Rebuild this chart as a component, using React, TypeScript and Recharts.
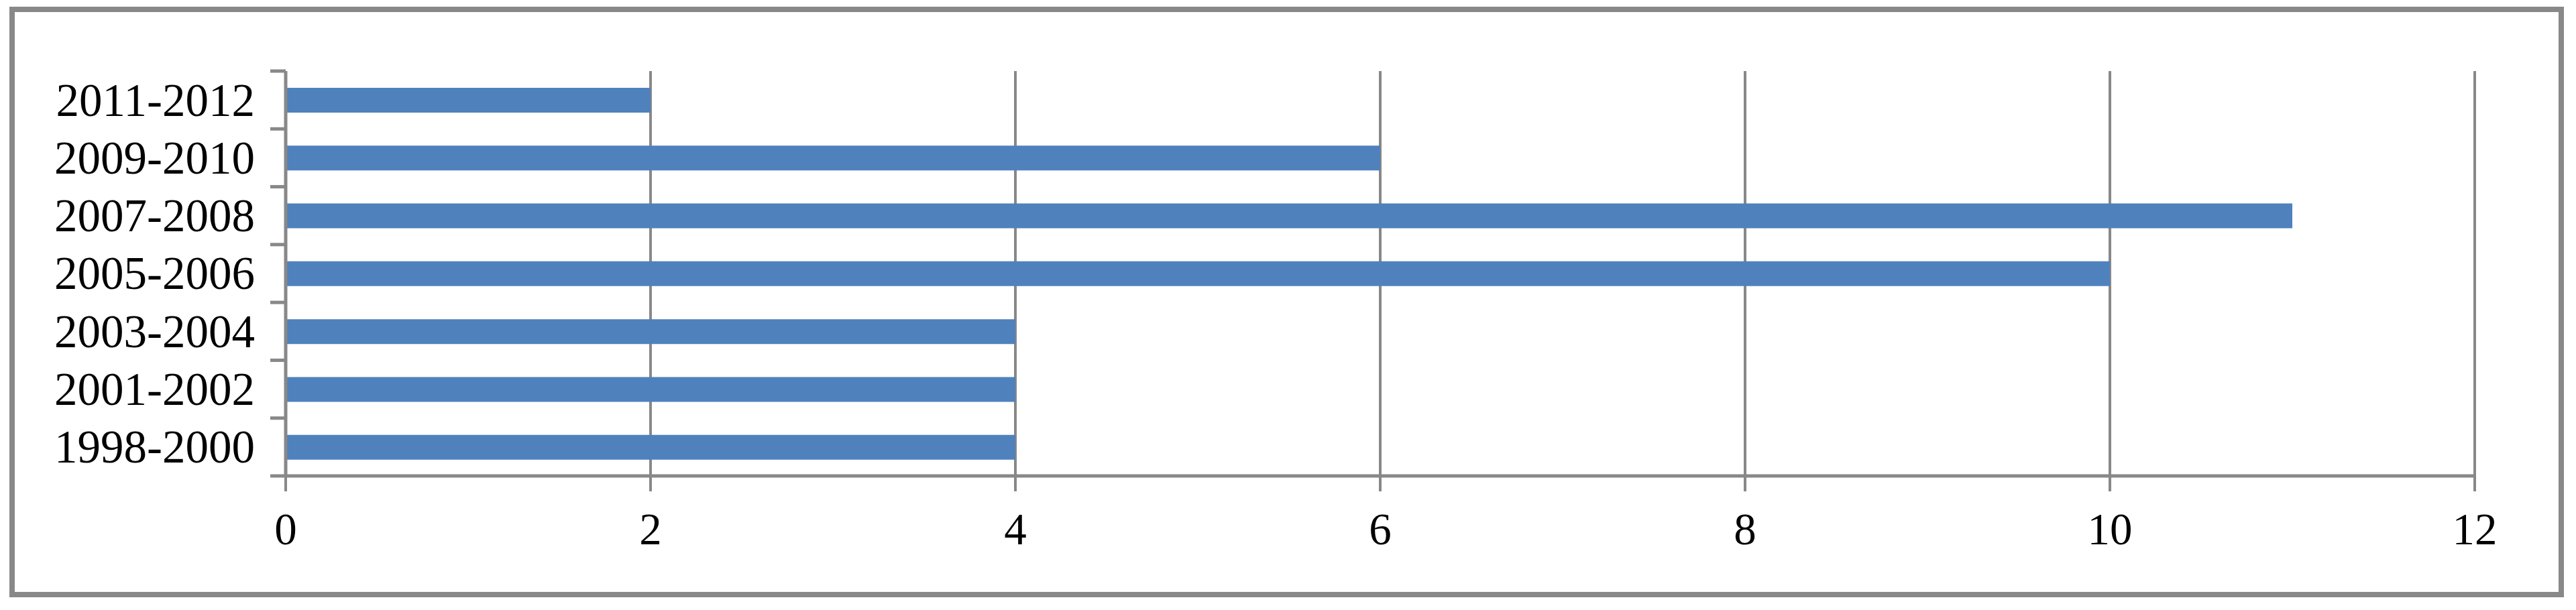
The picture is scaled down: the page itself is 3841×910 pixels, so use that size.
import { BarChart, Bar, XAxis, YAxis, CartesianGrid } from "recharts"

const periods = ['2011-2012', '2009-2010', '2007-2008', '2005-2006', '2003-2004', '2001-2002', '1998-2000']
const counts = [2, 6, 11, 10, 4, 4, 4]
const xTicks = [0, 2, 4, 6, 8, 10, 12]

const data = periods.map((p, i) => ({ period: p, count: counts[i] }))

const W = 3841
const H = 910
const PLOT_LEFT = 426
const PLOT_TOP = 106
const PLOT_BOTTOM = 710
const BAND = (PLOT_BOTTOM - PLOT_TOP) / periods.length
const GREY = "#888888"
const FONT = "'Liberation Serif', 'Times New Roman', serif"

function PeriodTick(props: any) {
  const { y, payload, index } = props
  return (
    <g>
      <line x1={PLOT_LEFT - 23} x2={PLOT_LEFT} y1={y - BAND / 2} y2={y - BAND / 2} stroke={GREY} strokeWidth={5} />
      {index === periods.length - 1 && (
        <line x1={PLOT_LEFT - 23} x2={PLOT_LEFT} y1={y + BAND / 2} y2={y + BAND / 2} stroke={GREY} strokeWidth={5} />
      )}
      <text x={PLOT_LEFT - 46} y={y} dy="0.34em" textAnchor="end" fontSize={69} fontFamily={FONT} fill="#000">
        {payload.value}
      </text>
    </g>
  )
}

function ValueTick(props: any) {
  const { x, payload } = props
  return (
    <text x={x} y={789} dy="0.34em" textAnchor="middle" fontSize={67} fontFamily={FONT} fill="#000">
      {payload.value}
    </text>
  )
}

export default function App() {
  return (
    <div style={{ position: "absolute", left: 0, top: 0, width: W, height: H, background: "#fff" }}>
      <div
        style={{
          position: "absolute",
          left: 14,
          top: 10,
          width: 3809,
          height: 881,
          border: `8px solid ${GREY}`,
          boxSizing: "border-box",
        }}
      />
      <BarChart
        width={W}
        height={H}
        data={data}
        layout="vertical"
        margin={{ top: PLOT_TOP, right: 151, bottom: 80, left: 0 }}
        style={{ position: "absolute", left: 0, top: 0 }}
      >
        <CartesianGrid horizontal={false} stroke={GREY} strokeWidth={4} />
        <XAxis
          type="number"
          domain={[0, 12]}
          ticks={xTicks}
          interval={0}
          height={120}
          tickSize={23}
          tickLine={{ stroke: GREY, strokeWidth: 4 }}
          axisLine={{ stroke: GREY, strokeWidth: 5 }}
          tick={<ValueTick />}
        />
        <YAxis
          type="category"
          dataKey="period"
          width={PLOT_LEFT}
          interval={0}
          tickLine={false}
          axisLine={{ stroke: GREY, strokeWidth: 5 }}
          tick={<PeriodTick />}
        />
        <Bar dataKey="count" fill="#4F81BD" barSize={37} isAnimationActive={false} />
      </BarChart>
    </div>
  )
}
